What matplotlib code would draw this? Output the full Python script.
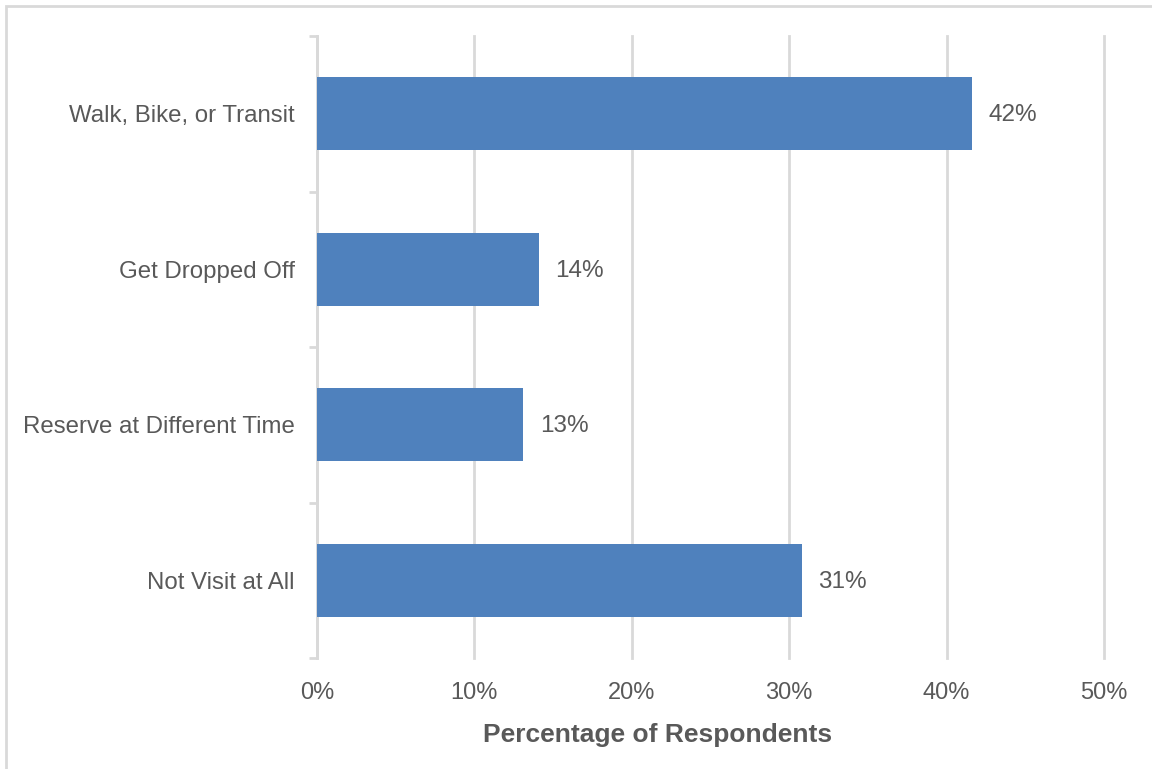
import matplotlib.pyplot as plt
from matplotlib.patches import Rectangle
from matplotlib.ticker import FixedLocator

# Valori
categories = ["Walk, Bike, or Transit", "Get Dropped Off", "Reserve at Different Time", "Not Visit at All"]
values = [41.6, 14.1, 13.1, 30.8]
value_labels = ["42%", "14%", "13%", "31%"]
x_ticks = [0, 10, 20, 30, 40, 50]
x_tick_labels = ["0%", "10%", "20%", "30%", "40%", "50%"]

plt.rcParams["font.family"] = ["Liberation Sans", "DejaVu Sans"]
text_color = "#595959"
grid_color = "#D9D9D9"
bar_color = "#4F81BD"

fig = plt.figure(figsize=(11.52, 7.69), dpi=100)
ax = fig.add_axes([317 / 1152, 1 - 658 / 769, (1104 - 317) / 1152, (658 - 36) / 769])

# Bordo esterno del grafico
fig.patches.append(Rectangle((6 / 1152, -0.01), 1.0, 1 - 6 / 769 + 0.01, transform=fig.transFigure,
                             fill=False, edgecolor=grid_color, linewidth=2))

y_pos = list(range(len(categories)))
ax.barh(y_pos, values, height=0.47, color=bar_color, zorder=3)
for y, v, lab in zip(y_pos, values, value_labels):
    ax.text(v + 1.05, y + 0.01, lab, va="center", ha="left", fontsize=17.5, color=text_color)

ax.set_xlim(0, 50)
ax.set_ylim(len(categories) - 0.5, -0.5)
ax.set_xticks(x_ticks)
ax.set_xticklabels(x_tick_labels, fontsize=17, color=text_color)
ax.set_yticks(y_pos)
ax.set_yticklabels(categories, fontsize=17.3, color=text_color)
ax.yaxis.set_minor_locator(FixedLocator([i - 0.5 for i in range(len(categories) + 1)]))
ax.tick_params(axis="y", which="major", length=0, pad=16)
ax.tick_params(axis="y", which="minor", length=6, width=2, color=grid_color)
ax.tick_params(axis="x", length=0, pad=17)

ax.grid(axis="x", color=grid_color, linewidth=2, zorder=0)
for gl in ax.get_xgridlines():
    gl.set_clip_on(False)
for s in ["top", "right", "bottom"]:
    ax.spines[s].set_visible(False)
ax.spines["left"].set_color(grid_color)
ax.spines["left"].set_linewidth(2)

ax.set_xlabel("Percentage of Respondents", fontsize=19, fontweight="bold", color=text_color)
ax.xaxis.set_label_coords((658 - 317) / 787, -(735 - 658) / 622)
ax.xaxis.label.set_verticalalignment("center")

fig.savefig("out.png", dpi=100)
